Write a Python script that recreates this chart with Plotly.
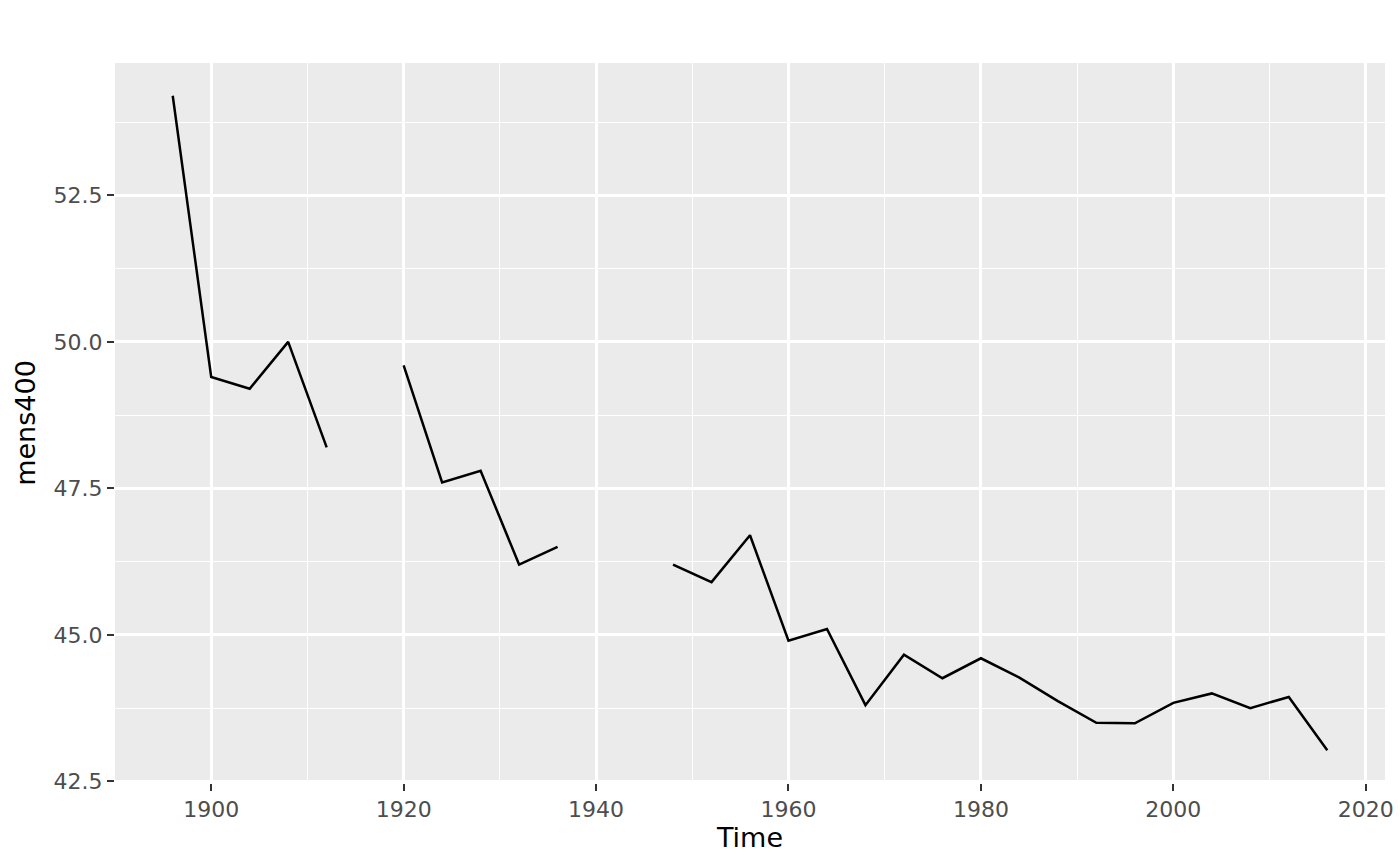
import plotly.graph_objects as go

years = list(range(1896, 2017, 4))
mens400 = [54.2, 49.4, 49.2, 50.0, 48.2, None, 49.6, 47.6, 47.8, 46.2, 46.5,
           None, None, 46.2, 45.9, 46.7, 44.9, 45.1, 43.8, 44.66, 44.26, 44.60,
           44.27, 43.87, 43.50, 43.49, 43.84, 44.00, 43.75, 43.94, 43.03]

x_ticks = [1900, 1920, 1940, 1960, 1980, 2000, 2020]
y_ticks = [42.5, 45.0, 47.5, 50.0, 52.5]
y_labels = ["42.5", "45.0", "47.5", "50.0", "52.5"]

vals = [v for v in mens400 if v is not None]
xr = (max(years) - min(years)) * 0.05
yr = (max(vals) - min(vals)) * 0.05

fig = go.Figure()
fig.add_trace(go.Scatter(x=years, y=mens400, mode="lines",
                         line=dict(color="black", width=2.5),
                         connectgaps=False, showlegend=False, hoverinfo="skip"))

axis_common = dict(
    showgrid=True, gridcolor="white", gridwidth=2.6,
    zeroline=False, showline=False, automargin=False,
    ticks="outside", ticklen=7, tickwidth=2, tickcolor="#333333",
    tickfont=dict(family="DejaVu Sans", size=22, color="#4D4D4D"),
)

fig.update_layout(
    width=1400, height=866,
    margin=dict(l=115, r=15, t=63, b=83),
    paper_bgcolor="white", plot_bgcolor="#EBEBEB",
    font=dict(family="DejaVu Sans", color="black"),
    xaxis=dict(**axis_common, range=[min(years) - xr, max(years) + xr],
               tickvals=x_ticks,
               minor=dict(dtick=10, tick0=1890, showgrid=True, gridcolor="white",
                          gridwidth=1.3, ticklen=0),
               title=dict(text="Time", font=dict(size=27, color="black"), standoff=6)),
    yaxis=dict(**axis_common, range=[min(vals) - yr, max(vals) + yr],
               tickvals=y_ticks, ticktext=y_labels,
               minor=dict(dtick=1.25, tick0=41.25, showgrid=True, gridcolor="white",
                          gridwidth=1.3, ticklen=0),
               title=dict(text="mens400", font=dict(size=27, color="black"), standoff=10)),
)

fig.write_html("out.html", config={"displayModeBar": False},
               post_script="document.body.style.margin='0';document.body.style.overflow='hidden';")
